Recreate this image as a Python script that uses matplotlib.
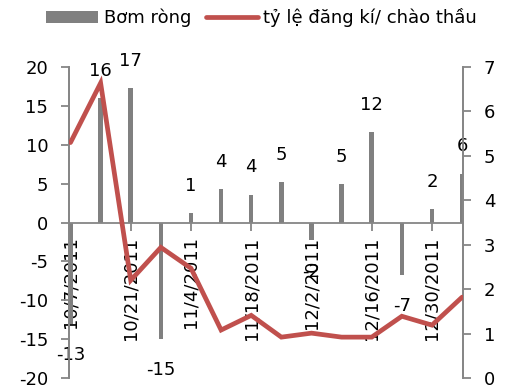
import matplotlib
matplotlib.use("Agg")
import matplotlib.pyplot as plt
from matplotlib.lines import Line2D
from matplotlib.patches import Patch

plt.rcParams['font.family'] = ['DejaVu Sans']
plt.rcParams['axes.unicode_minus'] = False

dates = ["10/7/2011", "10/14/2011", "10/21/2011", "10/28/2011", "11/4/2011",
         "11/11/2011", "11/18/2011", "11/25/2011", "12/2/2011", "12/9/2011",
         "12/16/2011", "12/23/2011", "12/30/2011", "1/6/2012"]
net_injection = [-13.0, 16.0, 17.3, -15.0, 1.2, 4.3, 3.6, 5.2, -2.3, 5.0,
                 11.6, -6.7, 1.7, 6.3]
bid_ratio = [5.3, 6.64, 2.2, 2.94, 2.47, 1.08, 1.41, 0.92, 1.01, 0.92,
             0.92, 1.39, 1.19, 1.82]

bar_color = "#808080"
line_color = "#C0504D"
axis_color = "#868686"
fs = 13

fig = plt.figure(figsize=(5.08, 3.92), dpi=100)
ax = fig.add_axes([0.1358, 0.0357, 0.7756, 0.7933])
ax2 = ax.twinx()

x = list(range(len(dates)))
ax.bar(x, net_injection, width=0.15, color=bar_color, zorder=2)
ax.set_ylim(-20, 20)
ax.set_yticks(range(-20, 21, 5))
ax.set_xlim(-0.05, 13.03)

for xi, v in zip(x, net_injection):
    if v >= 0:
        ax.annotate(f"{v:.0f}", (xi, v), xytext=(0, 13), textcoords="offset points",
                    ha="center", va="bottom", fontsize=fs, zorder=5)
    else:
        ax.annotate(f"{v:.0f}", (xi, v), xytext=(0, -16), textcoords="offset points",
                    ha="center", va="top", fontsize=fs, zorder=5)

ax2.plot(x, bid_ratio, color=line_color, lw=3.4, solid_capstyle="round",
         solid_joinstyle="miter", zorder=3)
ax2.set_ylim(0, 7)
ax2.set_yticks(range(0, 8))

# x axis sits on the zero line of the left scale
ax.spines['bottom'].set_position(('data', 0))
ax.spines['top'].set_visible(False)
ax2.spines['top'].set_visible(False)
ax2.spines['bottom'].set_visible(False)
for a in (ax, ax2):
    for s in ('left', 'right', 'bottom'):
        a.spines[s].set_color(axis_color)
        a.spines[s].set_linewidth(1.3)

ax.set_xticks(x[::2])
ax.set_xticklabels(dates[::2], rotation=90, va="top", ha="center")
ax.tick_params(axis='x', direction='out', length=6, width=1.3, color=axis_color,
               labelsize=fs, pad=4)
ax.tick_params(axis='y', direction='out', length=6, width=1.3, color=axis_color,
               labelsize=fs, pad=9)
ax2.tick_params(axis='y', direction='out', length=6, width=1.3, color=axis_color,
                labelsize=fs, pad=9)

# keep the line drawn over the bars
ax.set_zorder(0)
ax2.set_zorder(1)
ax2.patch.set_visible(False)

handles = [Patch(facecolor=bar_color, edgecolor='none'),
           Line2D([0], [0], color=line_color, lw=3.4, solid_capstyle="round")]
fig.legend(handles, ["Bơm ròng", "tỷ lệ đăng kí/ chào thầu"], loc="upper center",
           bbox_to_anchor=(0.515, 1.02), ncol=2, frameon=False, fontsize=fs,
           handlelength=2.9, handletextpad=0.3, columnspacing=0.8)

fig.savefig("out.png", dpi=100)
